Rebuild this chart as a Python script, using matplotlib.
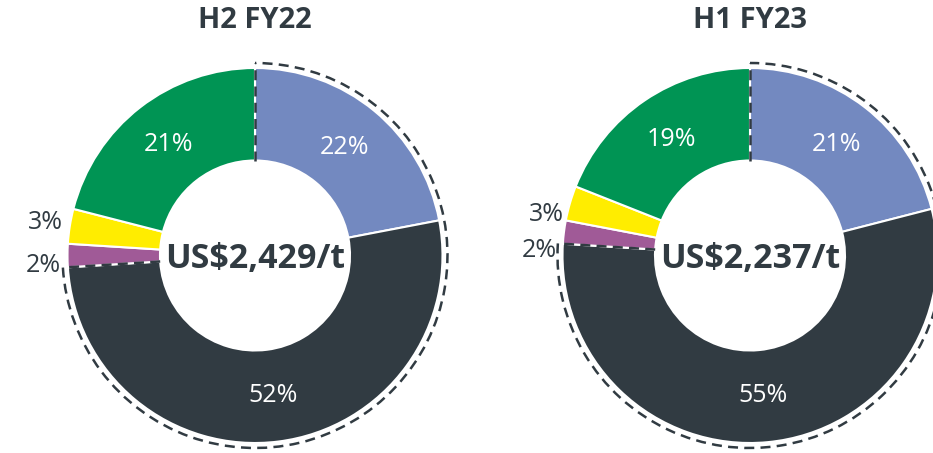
import numpy as np
import matplotlib.pyplot as plt
from matplotlib.patches import Arc

plt.rcParams['font.family'] = ['Open Sans', 'DejaVu Sans']

# Cost breakdown shares (%) for each half-year
segments = ['Blue', 'Dark', 'Purple', 'Yellow', 'Green']
h2_fy22 = [22, 52, 2, 3, 21]
h1_fy23 = [21, 55, 2, 3, 19]
periods = ['H2 FY22', 'H1 FY23']
unit_costs = ['US$2,429/t', 'US$2,237/t']

colors = ['#7389c0', '#313b42', '#a05a97', '#ffed00', '#009454']
text_dark = '#313b42'

W, H = 933, 453
fig = plt.figure(figsize=(W / 100, H / 100), dpi=100)
ax = fig.add_axes([0, 0, 1, 1])

radius = 187.5
hole = 95
centers = [(255, H - 255.5), (750, H - 255.5)]
# extra downward shift (px) for the small outside labels
nudges = [{2: 10, 3: 0}, {2: 22, 3: 18}]

for values, title, cost, (cx, cy), nudge in zip([h2_fy22, h1_fy23], periods, unit_costs,
                                                 centers, nudges):
    wedges, _ = ax.pie(values, colors=colors, startangle=90, counterclock=False,
                       center=(cx, cy), radius=radius,
                       wedgeprops=dict(width=radius - hole, edgecolor='white', linewidth=1.5))

    total = sum(values)
    for i, (w, v) in enumerate(zip(wedges, values)):
        mid = np.deg2rad((w.theta1 + w.theta2) / 2)
        if v >= 10:
            r = 0.75 * radius
            ax.text(cx + r * np.cos(mid), cy + r * np.sin(mid), f'{v}%',
                    color='white', fontsize=18, fontweight='normal',
                    ha='center', va='center')
        else:
            r = 1.13 * radius
            ax.text(cx + r * np.cos(mid), cy + r * np.sin(mid) - nudge.get(i, 0), f'{v}%',
                    color=text_dark, fontsize=18, fontweight='normal',
                    ha='center', va='center')

    # dashed outline around the first two segments
    end_angle = 90 - 360 * (values[0] + values[1]) / total
    r_out = radius + 5
    ax.add_patch(Arc((cx, cy), 2 * r_out, 2 * r_out, theta1=end_angle, theta2=90,
                     color=text_dark, lw=1.8, ls=(0, (4, 2.5))))
    for ang in (90, end_angle):
        a = np.deg2rad(ang)
        ax.plot([cx + hole * np.cos(a), cx + r_out * np.cos(a)],
                [cy + hole * np.sin(a), cy + r_out * np.sin(a)],
                color=text_dark, lw=1.8, ls=(0, (4, 2.5)))

    ax.text(cx, cy - 4, cost, color=text_dark, fontsize=24.5, fontweight='bold',
            ha='center', va='center')
    ax.text(cx, H - 20, title, color=text_dark, fontsize=21, fontweight='bold',
            ha='center', va='center')

ax.set_xlim(0, W)
ax.set_ylim(0, H)
ax.set_aspect('equal')
ax.axis('off')

fig.savefig('out.png', dpi=100)
